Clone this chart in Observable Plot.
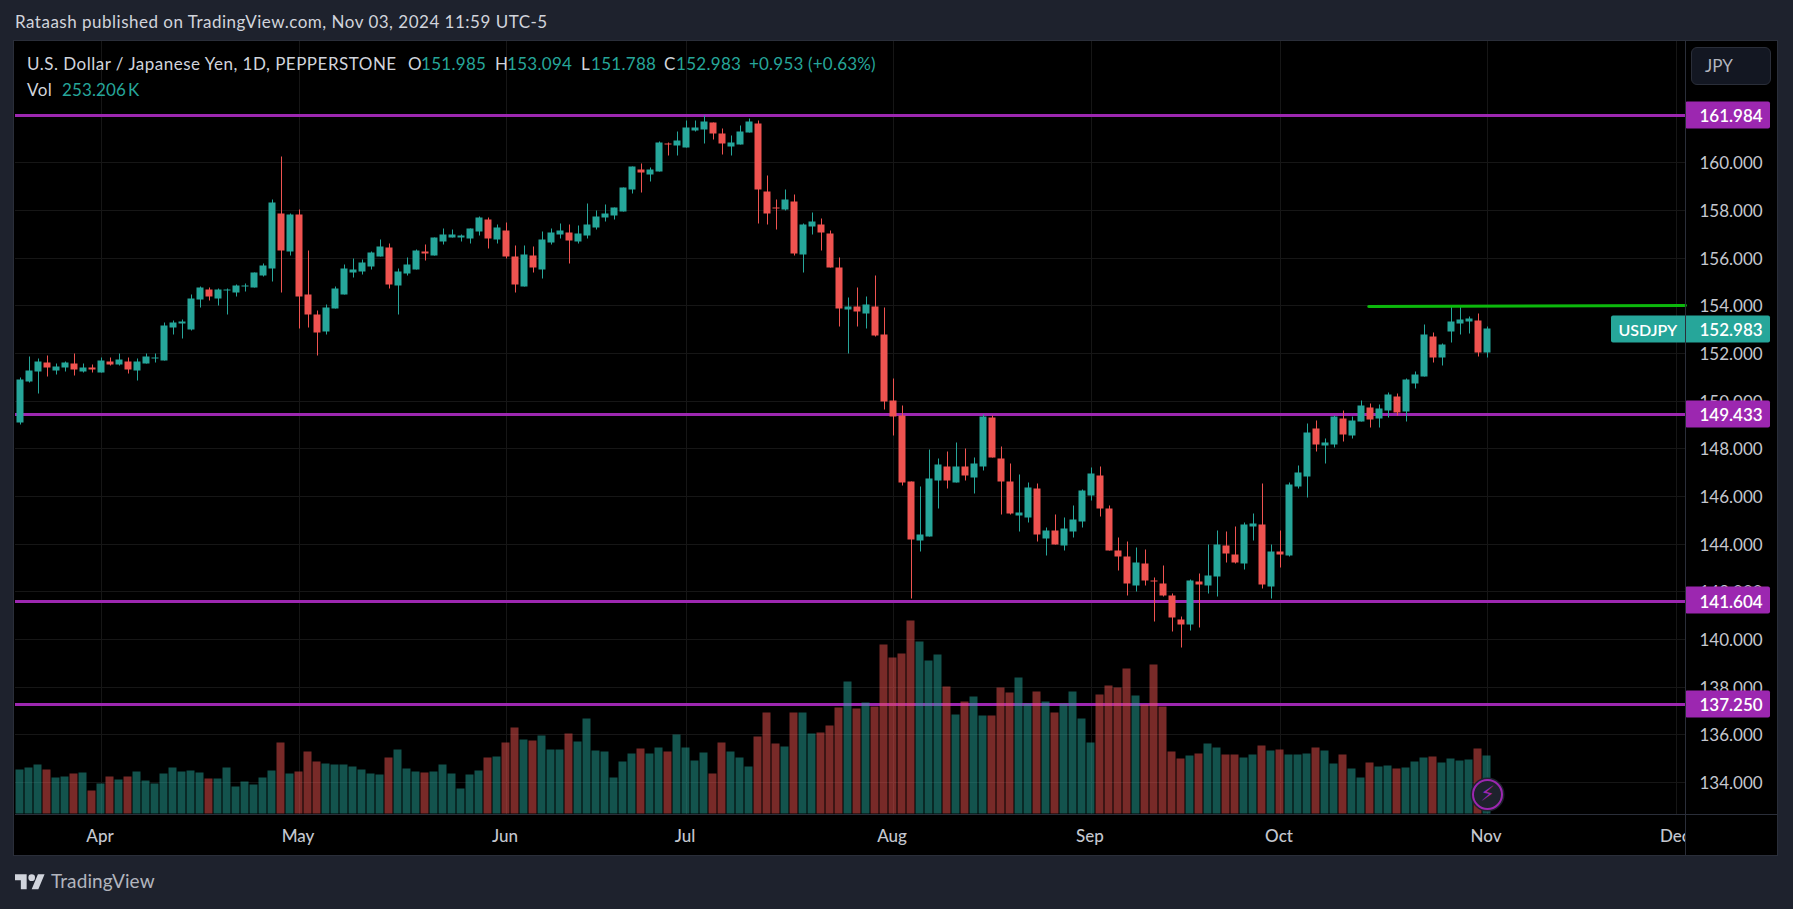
<!DOCTYPE html>
<html><head><meta charset="utf-8">
<script src="https://cdn.jsdelivr.net/npm/d3@7"></script>
<script src="https://cdn.jsdelivr.net/npm/@observablehq/plot@0.6"></script>
<style>
html,body{margin:0;padding:0;background:#1e222d;overflow:hidden}
#page{position:relative;width:1793px;height:909px;font-family:Lato,sans-serif;font-size:17px;color:#d1d4dc}
#pane{position:absolute;left:14px;top:41px;width:1763px;height:814px;background:#000;box-shadow:0 0 0 1px #2a2e39}
#chart{position:absolute;left:0;top:0}
#chart svg{display:block;background:transparent}
.t{position:absolute;white-space:nowrap;line-height:20px;letter-spacing:.5px}
.n{color:#26a69a;letter-spacing:.3px}
.line{position:absolute;background:#2a2e39}
#timecap{position:absolute;left:1685px;top:815px;width:92px;height:40px;background:#000}
#btn{position:absolute;left:1691px;top:47px;width:80px;height:38px;box-sizing:border-box;background:#131722;border:1px solid #2a2e39;border-radius:6px;color:#b2b5be;padding:8px 0 0 13px;line-height:20px}
#logo{position:absolute;left:15px;top:871px}
</style></head><body>
<div id="page">
  <div id="pane"></div>
  <div id="chart"></div>
  <div id="timecap"></div>
  <div class="line" style="left:1685px;top:41px;width:1px;height:814px"></div>
  <div class="line" style="left:15px;top:814px;width:1763px;height:1px"></div>
  <div class="t" style="left:15px;top:12px">Rataash published on TradingView.com, Nov 03, 2024 11:59 UTC-5</div>
  <div class="t" style="left:27px;top:54px">U.S. Dollar / Japanese Yen, 1D, PEPPERSTONE</div>
  <div class="t" style="left:408px;top:54px">O</div><div class="t n" style="left:421px;top:54px">151.985</div>
  <div class="t" style="left:495px;top:54px">H</div><div class="t n" style="left:507px;top:54px">153.094</div>
  <div class="t" style="left:581px;top:54px">L</div><div class="t n" style="left:591px;top:54px">151.788</div>
  <div class="t" style="left:664px;top:54px">C</div><div class="t n" style="left:676px;top:54px">152.983</div>
  <div class="t n" style="left:749px;top:54px;letter-spacing:.2px">+0.953 (+0.63%)</div>
  <div class="t" style="left:27px;top:80px">Vol</div><div class="t n" style="left:62px;top:80px;letter-spacing:.1px">253.206&#8201;K</div>
  <div id="btn">JPY</div>
  <svg id="logo" width="30" height="20" viewBox="0 0 36 24"><path fill="#d1d4dc" d="M14 22H7V11H0V4h14v18zM28 22h-8l7.5-18h8L28 22z"/><circle fill="#d1d4dc" cx="20" cy="8" r="4"/></svg>
  <div class="t" style="left:51px;top:871px;font-size:19px;color:#b2b5be;letter-spacing:.1px">TradingView</div>
</div>
<script>
const open = [
149.07,150.79,151.21,151.59,151.25,151.38,151.55,151.21,151.38,151.17,
151.63,151.50,151.63,151.25,151.55,151.76,151.67,153.06,153.22,152.97,
154.23,154.65,154.27,154.61,154.53,154.77,154.73,155.24,155.53,157.84,
156.24,157.79,154.44,153.60,152.89,153.85,154.44,155.36,155.40,155.61,
156.03,156.41,154.82,155.32,155.49,156.24,156.07,156.66,156.82,156.82,
156.78,157.08,157.58,156.74,157.12,156.03,154.77,156.07,155.48,156.61,
156.95,157.03,156.66,156.91,157.24,157.66,157.75,157.91,158.84,159.68,
159.47,159.59,160.77,160.68,160.60,161.31,161.35,161.65,161.18,160.64,
160.72,161.23,161.60,158.75,158.08,158.00,158.33,156.11,157.29,157.37,
156.99,155.57,153.81,153.93,153.64,153.93,152.76,149.99,149.36,146.59,
144.12,144.29,146.63,147.22,146.55,147.22,146.76,147.22,149.28,147.56,
146.59,145.17,145.08,146.30,144.20,144.54,143.91,144.50,144.91,146.00,
146.84,145.46,143.70,143.45,142.23,143.15,142.44,142.32,141.81,140.81,
140.60,142.40,142.23,142.61,143.91,143.53,143.15,144.71,144.79,142.19,
143.66,143.49,146.38,146.80,148.81,148.10,148.15,149.24,148.52,149.11,
149.70,149.24,149.57,150.16,149.53,150.70,151.00,152.68,151.80,152.88,
153.22,153.30,153.35,151.985];
const high = [
150.96,151.84,151.76,151.88,151.55,151.63,151.97,151.55,151.50,151.80,
151.80,151.97,151.80,151.76,151.97,151.97,153.27,153.35,153.39,154.44,
154.77,154.73,154.69,154.69,154.86,154.90,155.36,155.74,158.42,160.22,
157.84,158.00,156.28,153.77,154.02,154.77,155.70,155.95,155.91,156.24,
156.74,156.58,155.53,155.99,156.32,156.53,156.83,157.21,157.16,156.95,
157.20,157.71,157.66,157.37,157.45,156.49,156.49,156.45,157.08,157.20,
157.41,157.37,157.33,158.25,157.96,158.21,158.08,158.92,159.80,159.93,
159.76,160.85,160.81,161.27,161.73,161.73,161.94,161.65,161.39,161.10,
161.52,161.81,161.73,159.42,158.42,158.84,158.63,157.41,157.87,157.62,
157.12,155.99,154.31,154.73,154.35,155.23,153.89,150.91,149.78,146.59,
146.38,147.93,147.56,147.85,148.23,147.98,147.60,149.40,149.36,148.06,
147.35,146.89,146.55,146.51,144.66,145.21,145.08,145.59,146.26,147.18,
147.22,145.59,144.24,144.08,143.83,143.74,142.57,143.07,141.90,140.93,
142.48,142.73,143.95,144.54,144.50,144.71,144.87,145.25,146.51,143.95,
144.54,146.55,147.26,149.02,149.15,148.39,149.36,149.57,149.32,149.99,
149.87,149.82,150.33,150.29,150.91,151.21,153.18,152.84,152.38,153.98,
153.98,153.51,153.64,153.094];
const low = [
148.99,150.75,150.29,151.00,151.08,151.21,151.04,151.17,151.17,151.17,
151.46,151.46,151.13,150.83,151.55,151.59,151.67,152.76,152.59,152.93,
153.89,154.19,153.98,153.60,154.35,154.57,154.73,155.20,154.99,154.53,
156.07,153.01,153.06,151.88,152.76,153.85,154.44,155.15,155.28,155.49,
156.03,154.69,153.60,155.24,155.49,155.87,156.07,156.53,156.82,156.66,
156.57,156.91,156.36,156.57,155.95,154.52,154.77,155.36,155.10,156.53,
156.78,155.73,156.57,156.78,157.16,157.49,157.58,157.91,158.67,158.71,
159.17,159.59,160.26,160.26,160.60,161.27,160.77,160.93,160.31,160.26,
160.72,161.23,157.41,157.37,157.16,157.96,156.07,155.36,156.95,156.28,
155.57,153.09,151.96,153.09,153.01,152.67,149.61,148.52,146.43,141.67,
143.66,144.29,145.46,146.30,146.55,146.63,146.09,147.05,147.60,145.21,
145.21,144.50,144.87,144.08,143.49,143.95,143.70,144.24,144.66,145.80,
145.13,143.70,142.86,141.81,141.98,142.23,140.72,141.77,140.30,139.63,
140.34,140.47,141.90,141.77,143.20,143.15,142.90,144.12,142.11,141.67,
142.99,143.45,146.30,145.92,147.85,147.35,148.02,148.27,148.40,149.11,
148.86,148.86,149.28,149.36,149.11,150.50,151.00,151.58,151.46,152.42,
152.76,152.80,151.84,151.788];
const close = [
150.87,151.25,151.63,151.38,151.42,151.59,151.29,151.38,151.29,151.67,
151.50,151.72,151.29,151.63,151.84,151.80,153.14,153.27,153.31,154.27,
154.73,154.35,154.65,154.65,154.82,154.82,155.36,155.66,158.30,156.28,
157.79,154.35,153.60,152.84,153.89,154.69,155.53,155.49,155.78,156.20,
156.45,154.86,155.40,155.70,156.28,156.16,156.83,156.95,156.95,156.91,
157.20,157.66,156.78,157.24,156.03,154.85,156.11,155.57,156.74,157.03,
157.12,156.70,156.99,157.37,157.71,157.83,158.08,158.92,159.80,159.55,
159.68,160.81,160.72,160.89,161.44,161.44,161.69,161.18,160.77,160.81,
161.27,161.69,158.84,157.83,158.04,158.42,156.15,157.37,157.49,157.03,
155.57,153.85,153.93,153.72,154.01,152.72,149.95,149.32,146.55,144.16,
144.37,146.72,147.31,146.63,147.22,146.84,147.35,149.32,147.60,146.59,
145.25,145.29,146.34,144.37,144.54,143.95,144.62,145.00,146.21,146.93,
145.46,143.70,143.45,142.32,143.20,142.44,142.40,141.81,140.89,140.60,
142.44,142.27,142.65,143.95,143.57,143.20,144.79,144.83,142.27,143.66,
143.53,146.47,146.97,148.65,148.14,148.23,149.32,148.57,149.15,149.78,
149.19,149.66,150.24,149.49,150.87,151.08,152.76,151.80,152.34,153.30,
153.39,153.43,152.00,152.983];
const volume = [
193,202,215,193,159,163,176,180,102,132,
163,150,163,185,145,132,176,202,185,189,
180,154,154,202,119,141,128,159,189,311,
176,185,272,228,220,215,215,207,194,176,
172,246,281,198,185,180,185,215,176,111,
172,189,246,250,311,377,324,320,342,281,
281,351,316,416,276,271,157,227,262,284,
262,288,271,345,288,231,266,175,310,271,
244,205,336,441,306,292,441,441,349,354,
384,463,576,458,485,467,738,681,698,842,
751,668,694,554,432,489,511,428,428,550,
528,594,480,533,489,441,480,533,415,310,
519,559,550,633,515,476,650,467,271,240,
253,262,306,288,258,258,244,258,297,275,
279,258,258,262,288,275,218,258,196,157,
223,205,210,196,201,227,244,249,223,240,
231,236,284,253.206];
const monthLabels = ["Apr","May","Jun","Jul","Aug","Sep","Oct","Nov","Dec"];
const monthBars = [10,32,55,75,98,120,141,164,185];
const priceTicks = d3.range(134,162,2);
const levels = [161.984,149.433,141.604,137.25];
const lastPrice = 152.983;
const trendBars = [150.8,186];
const trendPrices = [153.96,154.02];
const alertBar = 164, alertPrice = 133.48;

const UP="#26a69a", DOWN="#ef5350", PURPLE="#9c27b0", AXIS="#c4c7cf";
const FONT="Lato,sans-serif";
const W=1793,H=909,ML=15,MR=108,MT=41,MB=95;
const yTop=165.09,yBot=132.65;
const pxPerYen=(H-MB-MT)/(yTop-yBot);
const pxPerBar=9;
const volPxPerK=58/253.206;
const volY=v=>yBot+v*volPxPerK/pxPerYen;
const bars=close.map((c,k)=>({i:k+1,o:open[k],h:high[k],l:low[k],c,v:volume[k],col:c>=open[k]?UP:DOWN}));
const trend=trendBars.map((b,k)=>({b,p:trendPrices[k]}));
const halfTag=13.5/pxPerYen;
const tagR=85/pxPerBar, tagL=74/pxPerBar;
const end=186;

const chart=Plot.plot({
  width:W,height:H,marginLeft:ML,marginRight:MR,marginTop:MT,marginBottom:MB,
  style:{background:"transparent",fontFamily:FONT,overflow:"visible"},
  x:{domain:[4/9,end],axis:null},
  y:{domain:[yBot,yTop],axis:null,round:true},
  marks:[
    Plot.ruleX(monthBars,{stroke:"#161616",strokeWidth:1}),
    Plot.ruleY(priceTicks,{stroke:"#161616",strokeWidth:1}),
    Plot.ruleY(levels,{stroke:PURPLE,strokeWidth:3}),
    Plot.rect(bars,{x1:d=>d.i-0.5,x2:d=>d.i+3.5/pxPerBar,y1:yBot,y2:d=>volY(d.v),fill:"col",fillOpacity:.5,dy:-.5}),
    Plot.ruleX(bars,{x:"i",y1:"l",y2:"h",stroke:"col",strokeWidth:1,dy:-.5}),
    Plot.rect(bars,{x1:d=>d.i-3.5/pxPerBar,x2:d=>d.i+3.5/pxPerBar,y1:d=>Math.max(d.o,d.c),y2:d=>Math.min(d.o,d.c),fill:"col",dy:-.5}),
    Plot.line(trend,{x:"b",y:"p",stroke:"#0cb80c",strokeWidth:3}),
    Plot.axisX({ticks:monthBars,tickFormat:b=>monthLabels[monthBars.indexOf(b)],tickSize:0,tickPadding:15,anchor:"bottom",fontSize:17,fontWeight:500,fill:AXIS,label:null,dx:-1.5}),
    Plot.axisY({ticks:priceTicks,tickFormat:p=>p.toFixed(3),tickSize:0,tickPadding:14,anchor:"right",fontSize:17,fill:AXIS,label:null,dy:1,style:{letterSpacing:".2px"}}),
    Plot.rect(levels,{x1:end,x2:end+tagR,y1:p=>p+halfTag,y2:p=>p-halfTag,fill:PURPLE,rx:2,dy:-.5}),
    Plot.text(levels,{x:end,y:p=>p,text:p=>p.toFixed(3),dx:14,dy:1,textAnchor:"start",fill:"#fff",fontSize:17,fontWeight:600,style:{letterSpacing:".2px"}}),
    Plot.rect([lastPrice],{x1:end-tagL,x2:end+tagR,y1:p=>p+halfTag,y2:p=>p-halfTag,fill:UP,rx:2,dy:-.5}),
    Plot.text([lastPrice],{x:end,y:p=>p,text:p=>p.toFixed(3),dx:14,dy:1,textAnchor:"start",fill:"#fff",fontSize:17,fontWeight:600,style:{letterSpacing:".2px"}}),
    Plot.text([lastPrice],{x:end-tagL,y:p=>p,text:()=>"USDJPY",dx:7,dy:1,textAnchor:"start",fill:"#fff",fontSize:16,fontWeight:600}),
    Plot.dot([0],{x:alertBar,y:alertPrice,r:16,fill:"#1e222d",stroke:"#1e222d",strokeWidth:2}),
    Plot.dot([0],{x:alertBar,y:alertPrice,r:14.5,fill:"#1e222d",stroke:PURPLE,strokeWidth:2}),
    Plot.text([0],{x:alertBar,y:alertPrice,text:()=>"\u26A1\uFE0E",fill:PURPLE,fontSize:21,fontFamily:"DejaVu Sans"})
  ]
});
document.getElementById("chart").appendChild(chart);
</script>
</body></html>
